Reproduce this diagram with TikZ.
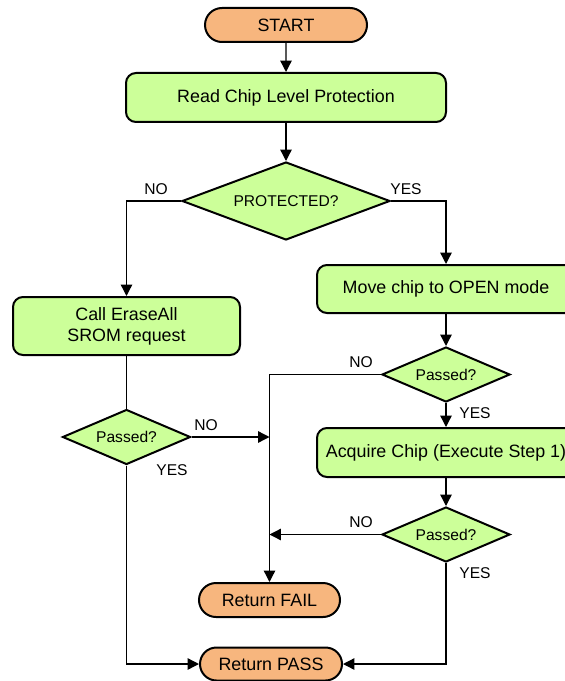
\documentclass[tikz,border=0pt]{standalone}
\usepackage{fontspec}
\setmainfont{Liberation Sans}
\usetikzlibrary{shapes.geometric, shapes.misc, arrows.meta}
\definecolor{boxgreen}{RGB}{204,255,153}
\definecolor{termorange}{RGB}{247,182,126}

\begin{document}
\begin{tikzpicture}[x=0.75pt, y=-0.75pt, font=\fontsize{13.4}{15.8}\selectfont, line join=miter,
	term/.style={draw, rounded rectangle, fill=termorange, line width=1.5pt, inner sep=0pt},
	box/.style={draw, rounded corners=7.5pt, fill=boxgreen, line width=1.5pt, align=center, inner sep=0pt},
	decision/.style={draw, diamond, fill=boxgreen, line width=1.5pt, inner sep=0pt, aspect=2.3, font=\fontsize{11.7}{14}\selectfont},
	lbl/.style={inner sep=0pt, font=\fontsize{11.7}{14}\selectfont},
	flow/.style={line width=1pt, -{Triangle[length=8.5pt, width=8.5pt]}},
	link/.style={line width=1pt}]

	\useasboundingbox (0,0) rectangle (564,681);

	% Đầu vào
	\node[term, minimum width=121.5pt, minimum height=25.5pt] (start) at (286,25) {START};
	\node[box, minimum width=240pt, minimum height=36.75pt] (read) at (286,97.5) {Read Chip Level Protection};
	\node[decision, aspect=2.67, minimum width=156pt, minimum height=58.5pt] (prot) at (286,201) {PROTECTED?};

	% Nhánh trái
	\node[box, minimum width=170.25pt, minimum height=43.5pt] (erase) at (126.5,326) {Call EraseAll\\SROM request};
	\node[decision, minimum width=96pt, minimum height=41.25pt] (passL) at (126.5,437) {Passed?};

	% Nhánh phải
	\node[box, minimum width=193.5pt, minimum height=36pt] (move) at (446,289) {Move chip to OPEN mode};
	\node[decision, minimum width=96pt, minimum height=41.25pt] (passA) at (446,374.5) {Passed?};
	\node[box, minimum width=193.5pt, minimum height=36.75pt] (acquire) at (446,452.5) {Acquire Chip (Execute Step 1)};
	\node[decision, minimum width=96pt, minimum height=41.25pt] (passB) at (446,534.5) {Passed?};

	% Kết quả
	\node[term, minimum width=105.75pt, minimum height=25.5pt] (fail) at (269.5,600) {Return FAIL};
	\node[term, minimum width=106.5pt, minimum height=24.75pt] (pass) at (271,664) {Return PASS};

	% Nhãn
	\node[lbl] (noProt) at (156,189) {NO};
	\node[lbl] (yesProt) at (406,189) {YES};
	\node[lbl] (noL) at (206,425) {NO};
	\node[lbl] (yesL) at (172,470) {YES};
	\node[lbl] (noA) at (361,362) {NO};
	\node[lbl] (yesA) at (475,413) {YES};
	\node[lbl] (noB) at (361,522) {NO};
	\node[lbl] (yesB) at (475,573) {YES};

	% Đường nối
	\draw[flow] (start) -- (read);
	\draw[flow] (read) -- (prot);
	\draw[flow] (prot.west) -| (erase.north);
	\draw[flow] (prot.east) -| (move.north);
	\draw[link] (erase) -- (passL);
	\draw[flow] (passL.east) -- (passL.east -| fail.north);
	\draw[flow] (passL.south) |- (pass.west);
	\draw[flow] (move) -- (passA);
	\draw[flow] (passA) -- (acquire);
	\draw[flow] (passA.west) -| (fail.north);
	\draw[flow] (acquire) -- (passB);
	\draw[flow] (passB.west) -- (passB.west -| fail.north);
	\draw[flow] (passB.south) |- (pass.east);

\end{tikzpicture}
\end{document}
